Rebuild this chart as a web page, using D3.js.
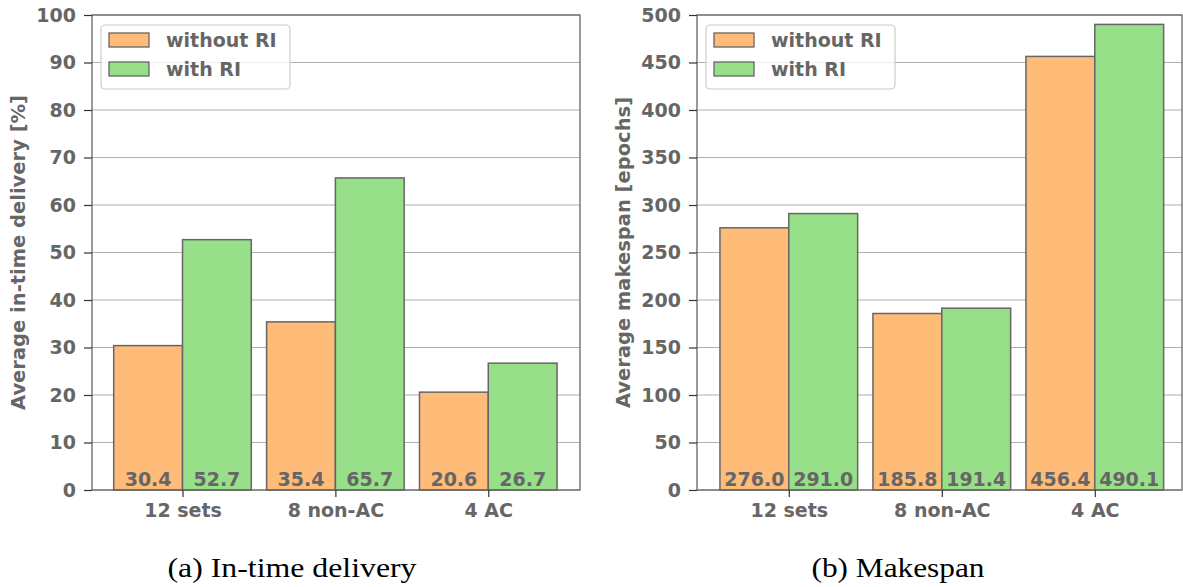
<!DOCTYPE html>
<html lang="en">
<head>
<meta charset="utf-8">
<title>In-time delivery and makespan</title>
<script src="https://cdn.jsdelivr.net/npm/d3@7"></script>
<style>
  body { margin: 0; background: #ffffff; }
  svg text { font-family: "DejaVu Sans", sans-serif; font-weight: bold; fill: #666666; }
  svg text.caption { font-family: "Liberation Serif", "DejaVu Serif", serif; font-weight: normal; fill: #000000; }
</style>
</head>
<body>
<script>
// data
var categories = ["12 sets", "8 non-AC", "4 AC"];
var seriesNames = ["without RI", "with RI"];
var seriesColors = ["#ffbb78", "#98df8a"];

var deliveryWithout = [30.4, 35.4, 20.6];
var deliveryWith = [52.7, 65.7, 26.7];
var deliveryTicks = [0, 10, 20, 30, 40, 50, 60, 70, 80, 90, 100];

var makespanWithout = [276.0, 185.8, 456.4];
var makespanWith = [291.0, 191.4, 490.1];
var makespanTicks = [0, 50, 100, 150, 200, 250, 300, 350, 400, 450, 500];

var w = 1183, h = 587;
var svg = d3.select("body").append("svg").attr("width", w).attr("height", h);

var barW = 0.45;
var edge = "#666666";
var fs = "19px";

function drawPanel(opt) {
  var g = svg.append("g");
  var x = d3.scaleLinear().domain(opt.xdom).range([opt.left, opt.right]);
  var y = d3.scaleLinear().domain([0, opt.ymax]).range([opt.bottom, opt.top]);

  // grid
  g.selectAll("line.grid")
    .data(opt.ticks)
    .enter().append("line")
    .attr("x1", opt.left).attr("x2", opt.right)
    .attr("y1", function(d) { return y(d); })
    .attr("y2", function(d) { return y(d); })
    .attr("stroke", "#b0b0b0").attr("stroke-width", 1);

  // bars
  var series = [opt.a, opt.b];
  series.forEach(function(vals, s) {
    g.selectAll("rect.s" + s)
      .data(vals)
      .enter().append("rect")
      .attr("x", function(d, i) { return x(i + (s - 1) * barW); })
      .attr("width", x(barW) - x(0))
      .attr("y", function(d) { return y(d); })
      .attr("height", function(d) { return y(0) - y(d); })
      .attr("fill", seriesColors[s])
      .attr("stroke", edge).attr("stroke-width", 1.5);

    g.selectAll("text.v" + s)
      .data(vals)
      .enter().append("text")
      .attr("x", function(d, i) { return x(i + (s - 0.5) * barW); })
      .attr("y", opt.bottom - 4)
      .attr("text-anchor", "middle")
      .attr("font-size", fs)
      .text(function(d) { return d.toFixed(1); });
  });

  // frame
  g.append("rect")
    .attr("x", opt.left).attr("y", opt.top)
    .attr("width", opt.right - opt.left).attr("height", opt.bottom - opt.top)
    .attr("fill", "none").attr("stroke", edge).attr("stroke-width", 1.3);

  // y axis
  var yAxis = d3.axisLeft(y).tickValues(opt.ticks).tickSize(8).tickPadding(8);
  var ya = g.append("g").attr("transform", "translate(" + opt.left + ",0)").call(yAxis);
  ya.select(".domain").remove();
  ya.selectAll("line").attr("stroke", "#333333").attr("stroke-width", 1.2);
  ya.selectAll("text").attr("font-size", fs).attr("font-family", null).attr("fill", null);

  // x axis
  var xAxis = d3.axisBottom(x).tickValues([0, 1, 2])
    .tickFormat(function(d) { return categories[d]; }).tickSize(7).tickPadding(7);
  var xa = g.append("g").attr("transform", "translate(0," + opt.bottom + ")").call(xAxis);
  xa.select(".domain").remove();
  xa.selectAll("line").attr("stroke", "#333333").attr("stroke-width", 1.2);
  xa.selectAll("text").attr("font-size", fs).attr("font-family", null).attr("fill", null);

  // y label
  g.append("text")
    .attr("transform", "translate(" + opt.ylabelX + "," + ((opt.top + opt.bottom) / 2) + ") rotate(-90)")
    .attr("text-anchor", "middle")
    .attr("font-size", "19.5px")
    .text(opt.ylabel);

  // legend
  var lx = opt.left + 9, ly = opt.top + 10;
  g.append("rect")
    .attr("x", lx).attr("y", ly).attr("width", 189).attr("height", 64)
    .attr("rx", 4).attr("fill", "#ffffff").attr("fill-opacity", 0.8)
    .attr("stroke", "#cccccc").attr("stroke-width", 1.2);
  seriesNames.forEach(function(name, s) {
    g.append("rect")
      .attr("x", lx + 8).attr("y", ly + 8 + s * 29)
      .attr("width", 40).attr("height", 14)
      .attr("fill", seriesColors[s]).attr("stroke", edge).attr("stroke-width", 1.3);
    g.append("text")
      .attr("x", lx + 65).attr("y", ly + 22 + s * 29)
      .attr("font-size", fs)
      .text(name);
  });

  // caption
  g.append("text")
    .attr("class", "caption")
    .attr("x", opt.capX).attr("y", 577)
    .attr("text-anchor", "middle")
    .attr("font-size", "28px")
    .attr("textLength", opt.capLen)
    .attr("lengthAdjust", "spacingAndGlyphs")
    .text(opt.caption);
}

drawPanel({
  a: deliveryWithout, b: deliveryWith, ticks: deliveryTicks, ymax: 100,
  xdom: [-0.592, 2.6], left: 92, right: 580, top: 15, bottom: 490,
  ylabel: "Average in-time delivery [%]", ylabelX: 25,
  caption: "(a) In-time delivery", capX: 292, capLen: 249
});

drawPanel({
  a: makespanWithout, b: makespanWith, ticks: makespanTicks, ymax: 500,
  xdom: [-0.6, 2.57], left: 697, right: 1182, top: 15, bottom: 490,
  ylabel: "Average makespan [epochs]", ylabelX: 630,
  caption: "(b) Makespan", capX: 898, capLen: 173
});
</script>
</body>
</html>
